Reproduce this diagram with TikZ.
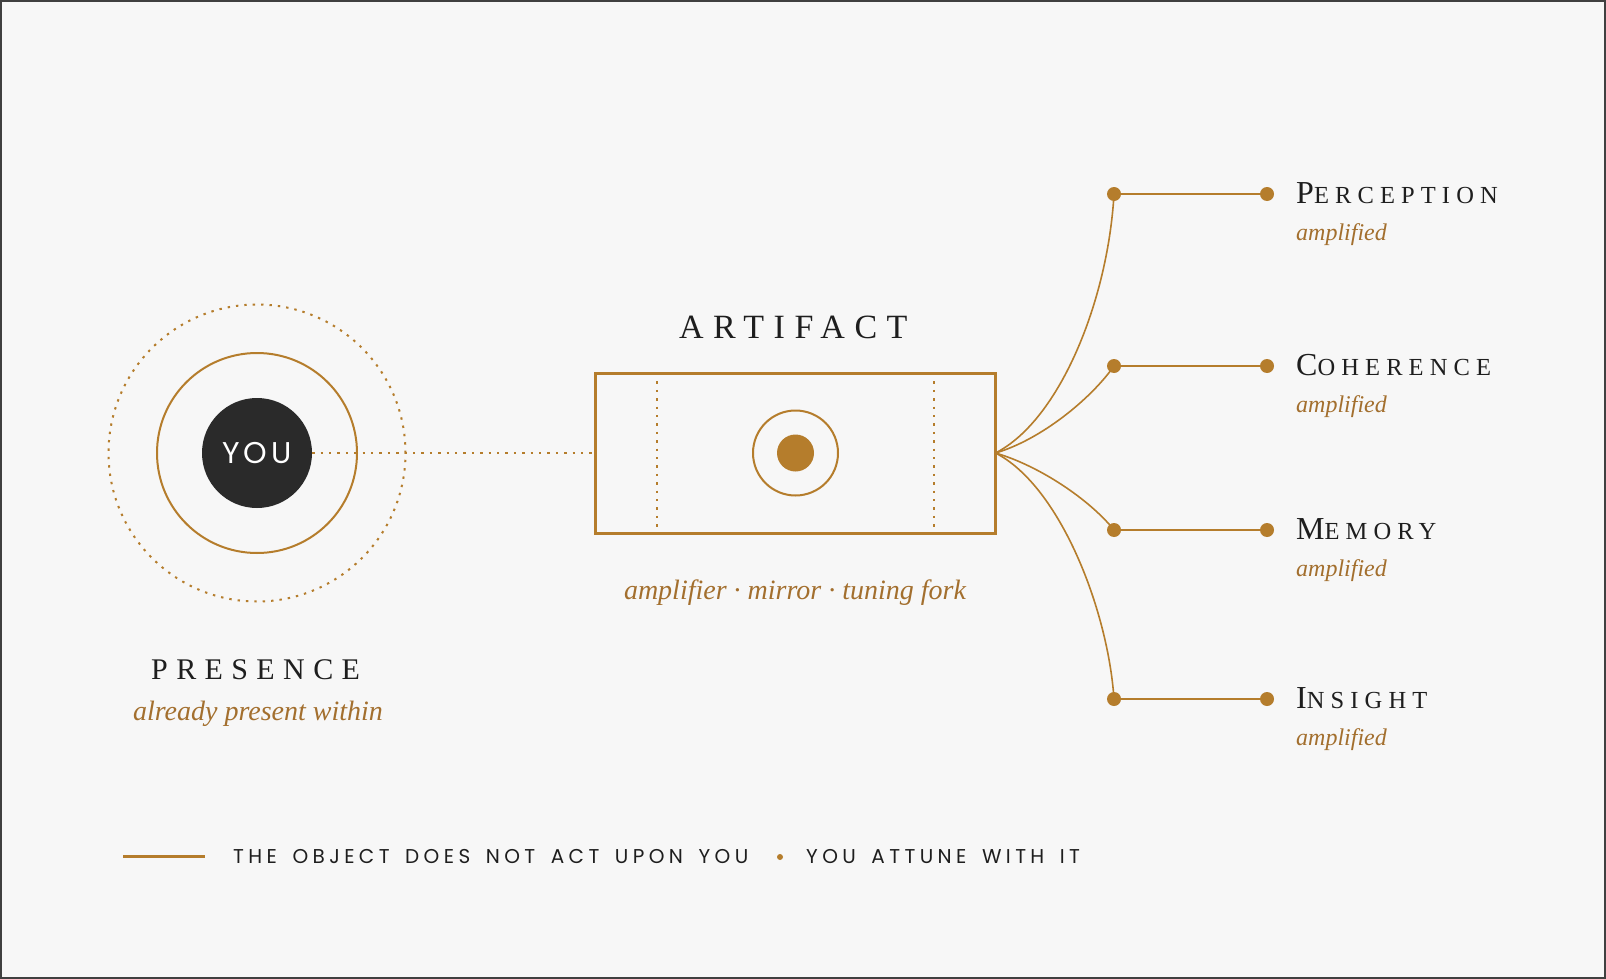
\documentclass[tikz,border=0pt]{standalone}
\usepackage{fontspec}
\setmainfont{Liberation Serif}
\newfontfamily\youfont[LetterSpace=12]{Poppins}
\newfontfamily\legendfont[LetterSpace=22,WordSpace=1.6]{Poppins}
\newfontfamily\spacedfont[LetterSpace=28]{Liberation Serif}
\newfontfamily\labelfont[LetterSpace=25]{Liberation Serif}
\definecolor{gold}{HTML}{B57D2C}
\definecolor{goldtext}{HTML}{A36F2E}
\definecolor{ink}{HTML}{1E1E1E}
\definecolor{youfill}{HTML}{2A2A2A}
\definecolor{paper}{HTML}{F7F7F7}
\newcommand{\fakesc}[2]{{\fontsize{32}{32}\selectfont #1}{\fontsize{24.5}{24.5}\selectfont #2}}
\begin{document}
\begin{tikzpicture}[x=1pt,y=-1pt,
  gold line/.style={draw=gold,line width=2pt},
  gold curve/.style={draw=gold,line width=1.6pt},
  gold dots/.style={draw=gold,line width=2pt,dash pattern=on 2.4pt off 6pt},
  caps title/.style={anchor=base west,inner sep=0,text=ink,font=\spacedfont\fontsize{34}{34}\selectfont},
  note/.style={anchor=base,inner sep=0,text=goldtext,font=\itshape\fontsize{28}{28}\selectfont},
  small note/.style={anchor=base west,inner sep=0,text=goldtext,font=\itshape\fontsize{24}{24}\selectfont},
  legend/.style={anchor=base west,inner sep=0,text=ink,font=\legendfont\fontsize{20}{20}\selectfont}]
\fill[paper] (0,0) rectangle (1606,979);
\draw[line width=2pt,draw=black!75] (1,1) rectangle (1605,978);
\useasboundingbox (0,0) rectangle (1606,979);

\node[circle,fill=youfill,minimum size=110pt,inner sep=0,text=white,
  font=\youfont\fontsize{30}{30}\selectfont] (you) at (257,453) {YOU};
\node[circle,gold line,minimum size=200pt,inner sep=0] (ring) at (you) {};
\node[circle,gold dots,minimum size=297pt,inner sep=0] (halo) at (you) {};
\node[caps title,font=\spacedfont\fontsize{30}{30}\selectfont] (presence) at (151,679) {PRESENCE};
\node[note] (presence-note) at (258,720) {already present within};

\node[draw=gold,line width=3pt,minimum width=400pt,minimum height=160pt,
  inner sep=0,outer sep=0] (artifact) at (795.5,453) {};
\draw[gold dots] (you.east) -- (artifact.west);
\draw[gold dots] ([xshift=61pt]artifact.north west) -- ([xshift=61pt]artifact.south west);
\draw[gold dots] ([xshift=-62pt]artifact.north east) -- ([xshift=-62pt]artifact.south east);
\node[circle,gold line,minimum size=85pt,inner sep=0] (core) at (artifact) {};
\node[circle,fill=gold,minimum size=37pt,inner sep=0] (core-dot) at (artifact) {};
\node[caps title] (artifact-title) at (679,338) {ARTIFACT};
\node[note] (artifact-note) at (795,599) {amplifier · mirror · tuning fork};

\coordinate (fan) at (artifact.east);
\foreach \n/\y/\first/\rest/\ax/\ay/\bx/\by in {
  perception/194/P/ERCEPTION/1060/420/1108/300,
  coherence/366/C/OHERENCE/1040/440/1090/400,
  memory/530/M/EMORY/1040/466/1090/500,
  insight/699/I/NSIGHT/1060/486/1108/610}
{
  \coordinate (\n-in) at (1114,\y);
  \coordinate (\n-out) at (1267,\y);
  \draw[gold curve] (fan) .. controls (\ax,\ay) and (\bx,\by) .. (\n-in);
  \draw[gold line] (\n-in) -- (\n-out);
  \fill[gold] (\n-in) circle (7);
  \fill[gold] (\n-out) circle (7);
  \node[caps title,font=\labelfont] (\n) at (1296,\y+9) {\fakesc{\first}{\rest}};
  \node[small note] (\n-note) at (1296,\y+46) {amplified};
}

\coordinate (key-a) at (123,856);
\coordinate (key-b) at (205,856);
\draw[draw=gold,line width=3pt] (key-a) -- (key-b);
\node[legend] (key-left) at (233,863) {THE OBJECT DOES NOT ACT UPON YOU};
\fill[gold] (780,857) circle (3);
\node[legend] (key-right) at (806,863) {YOU ATTUNE WITH IT};
\end{tikzpicture}
\end{document}
